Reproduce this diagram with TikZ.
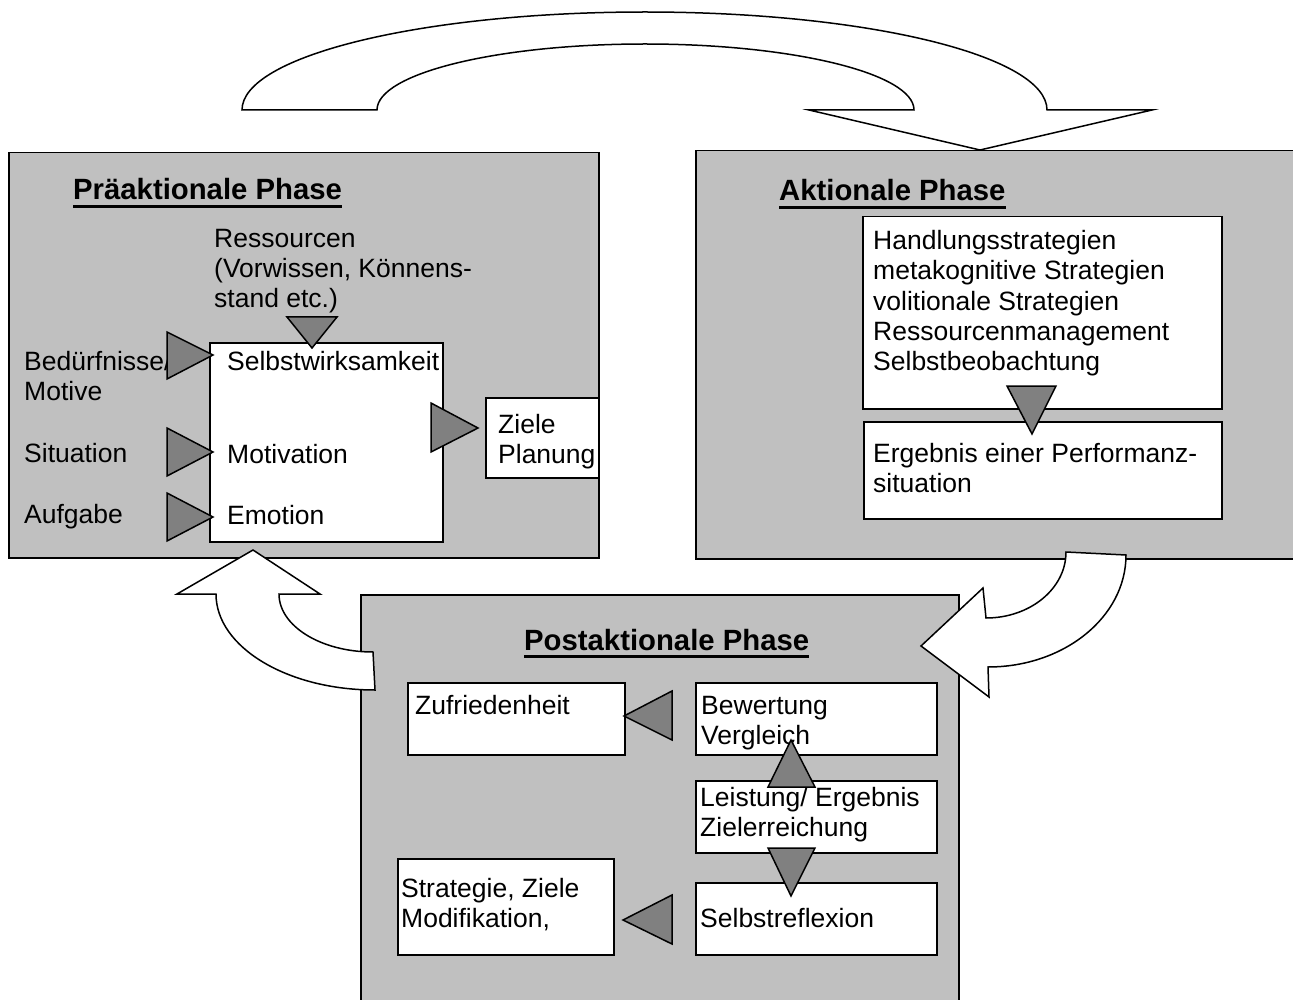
\documentclass[tikz,border=0pt]{standalone}
\usepackage{fontspec}
\setmainfont{Liberation Sans}
\begin{document}
\begin{tikzpicture}[x=1pt,y=-1pt,
  panel/.style={draw=black, fill=panelgray, line width=1.5pt, anchor=north west, inner sep=0pt},
  box/.style={draw=black, fill=white, line width=1.5pt, anchor=north west, inner sep=0pt},
  tri/.style={draw=black, fill=trigray, line width=1.5pt, line join=miter},
  bigarrow/.style={draw=black, fill=white, line width=1.5pt, line join=miter},
  txt/.style={anchor=base west, inner sep=0pt, align=left, font=\fontsize{26.5}{30}\selectfont},
  ttl/.style={anchor=base west, inner sep=0pt, font=\fontsize{29.3}{32}\selectfont\bfseries},
  uline/.style={line width=2.6pt}]
\definecolor{panelgray}{HTML}{C0C0C0}
\definecolor{trigray}{HTML}{808080}
\useasboundingbox (0,0) rectangle (1293,1000);
\fill[white] (0,0) rectangle (1293,1000);

% panels
\node[panel, minimum width=590pt, minimum height=405pt] (pre) at (8,152) {};
\node[panel, minimum width=601pt, minimum height=408pt] (akt) at (695,150) {};
\node[panel, minimum width=598pt, minimum height=410pt] (post) at (360,594) {};

% big arrows
\draw[bigarrow] (242,110) .. controls (242,55.9) and (422.4,12) .. (645,12)
  .. controls (867.6,12) and (1047,55.9) .. (1047,110)
  -- (1152,110) -- (980,150) -- (809,110) -- (914,110)
  .. controls (914,73.5) and (793,44) .. (645,44)
  .. controls (497,44) and (377,73.5) .. (377,110) -- cycle;
\draw[bigarrow] (253,550) -- (320,594) -- (279,594)
  .. controls (279,626) and (321,652) .. (373,652)
  -- (375,690)
  .. controls (287.2,690) and (216,647) .. (216,594)
  -- (177,594) -- cycle;
\draw[bigarrow] (1066,552) -- (1126,555)
  .. controls (1126,616.9) and (1064.2,667) .. (988,667)
  -- (989,697) -- (921,646) -- (983,588) -- (986,618)
  .. controls (1030.2,618) and (1066,588.5) .. (1066,552) -- cycle;

% titles
\node[ttl] (tpre) at (73,200) {Präaktionale Phase};
\draw[uline] ([yshift=-6.5pt]tpre.base west) -- ([yshift=-6.5pt]tpre.base east);
\node[ttl] (takt) at (779,201) {Aktionale Phase};
\draw[uline] ([yshift=-6.5pt]takt.base west) -- ([yshift=-6.5pt]takt.base east);
\node[ttl] (tpost) at (524,650) {Postaktionale Phase};
\draw[uline] ([yshift=-6.5pt]tpost.base west) -- ([yshift=-6.5pt]tpost.base east);

% Präaktionale phase (base anchor = baseline of the last line)
\node[box, minimum width=233pt, minimum height=199pt] (mainbox) at (209,342) {};
\node[box, minimum width=113pt, minimum height=80pt] (ziele) at (485,397) {};
\node[txt] (ress) at (214,308) {Ressourcen\\(Vorwissen, Könnens-\\stand etc.)};
\node[txt] (bed) at (24,400) {Bedürfnisse/\\Motive};
\node[txt] (sit) at (24,462) {Situation};
\node[txt] (auf) at (24,523) {Aufgabe};
\node[txt] (sw) at (227,370) {Selbstwirksamkeit};
\node[txt] (mot) at (227,463) {Motivation};
\node[txt] (emo) at (227,524) {Emotion};
\node[txt] (zt) at (498,463) {Ziele\\Planung};
\draw[tri] (287,317) -- (337,317) -- (312,348) -- cycle;
\draw[tri] (167,332) -- (167,379) -- (213,355) -- cycle;
\draw[tri] (167,428) -- (167,476) -- (213,452) -- cycle;
\draw[tri] (167,493) -- (167,541) -- (213,517) -- cycle;
\draw[tri] (431,403) -- (431,452) -- (478,428) -- cycle;

% Aktionale phase
\node[box, minimum width=359pt, minimum height=192pt] (akt1) at (862,216) {};
\node[box, minimum width=358pt, minimum height=97pt] (akt2) at (863,421) {};
\node[txt] (akt1t) at (873,370) {Handlungsstrategien\\metakognitive Strategien\\volitionale Strategien\\Ressourcenmanagement\\Selbstbeobachtung};
\node[txt] (akt2t) at (873,492) {Ergebnis einer Performanz-\\situation};
\draw[tri] (1007,386) -- (1056,386) -- (1032,434) -- cycle;

% Postaktionale phase
\node[box, minimum width=217pt, minimum height=72pt] (zuf) at (407,682) {};
\node[box, minimum width=241pt, minimum height=72pt] (bew) at (695,682) {};
\node[box, minimum width=241pt, minimum height=72pt] (lei) at (695,780) {};
\node[box, minimum width=241pt, minimum height=72pt] (sel) at (695,882) {};
\node[box, minimum width=216pt, minimum height=96pt] (str) at (397,858) {};
\node[txt] (zuft) at (415,714) {Zufriedenheit};
\node[txt] (bewt) at (701,744) {Bewertung\\Vergleich};
\node[txt] (leit) at (700,836) {Leistung/ Ergebnis\\Zielerreichung};
\node[txt] (selt) at (700,927) {Selbstreflexion};
\node[txt] (strt) at (401,927) {Strategie, Ziele\\Modifikation,};
\draw[tri] (672,691) -- (672,740) -- (624,716) -- cycle;
\draw[tri] (768,787) -- (815,787) -- (791,740) -- cycle;
\draw[tri] (768,848) -- (815,848) -- (791,896) -- cycle;
\draw[tri] (672,895) -- (672,944) -- (623,920) -- cycle;
\end{tikzpicture}
\end{document}
